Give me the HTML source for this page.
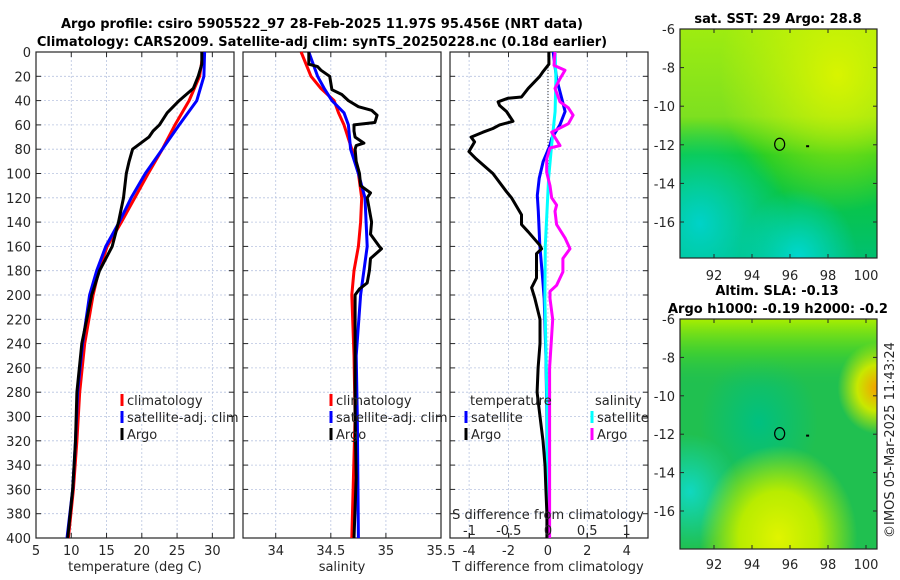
<!DOCTYPE html>
<html><head><meta charset="utf-8"><style>
body{margin:0;background:#fff}
svg{display:block;font-family:"DejaVu Sans","Liberation Sans",sans-serif}
.t{font-size:13px;fill:#262626}
.b{font-size:13px;font-weight:bold;fill:#000}
</style></head><body>
<svg id="c" width="900" height="580" viewBox="0 0 900 580">
<defs>
<radialGradient id="m1a" cx="0.8" cy="0.2" r="0.6"><stop offset="0" stop-color="#d8f400"/><stop offset="1" stop-color="#d8f400" stop-opacity="0"/></radialGradient>
<radialGradient id="m1b" cx="0.1" cy="0.85" r="0.45"><stop offset="0" stop-color="#00d2c8"/><stop offset="1" stop-color="#00d2c8" stop-opacity="0"/></radialGradient>
<radialGradient id="m1c" cx="0.6" cy="1" r="0.3"><stop offset="0" stop-color="#00d8d0"/><stop offset="1" stop-color="#00d8d0" stop-opacity="0"/></radialGradient>
<linearGradient id="m1base" x1="0" y1="0" x2="0" y2="1"><stop offset="0" stop-color="#9eec10"/><stop offset="0.38" stop-color="#7ee020"/><stop offset="0.55" stop-color="#10c828"/><stop offset="1" stop-color="#00c070"/></linearGradient>
<radialGradient id="m2a" cx="1" cy="0.3" r="0.2"><stop offset="0" stop-color="#f4a000"/><stop offset="0.5" stop-color="#c8e800"/><stop offset="1" stop-color="#c8e800" stop-opacity="0"/></radialGradient>
<radialGradient id="m2b" cx="0.05" cy="0.75" r="0.25"><stop offset="0" stop-color="#10d8c0"/><stop offset="1" stop-color="#10d8c0" stop-opacity="0"/></radialGradient>
<radialGradient id="m2c" cx="0.5" cy="0.95" r="0.4"><stop offset="0" stop-color="#e0f400"/><stop offset="0.5" stop-color="#b8ec00"/><stop offset="1" stop-color="#b8ec00" stop-opacity="0"/></radialGradient>
<linearGradient id="m2top" x1="0" y1="0" x2="0" y2="1"><stop offset="0" stop-color="#a8ee00"/><stop offset="0.15" stop-color="#50d820" stop-opacity="0.6"/><stop offset="0.3" stop-color="#20c050" stop-opacity="0"/></linearGradient>
<radialGradient id="m2d" cx="0.4" cy="0.45" r="0.3"><stop offset="0" stop-color="#00c080"/><stop offset="1" stop-color="#00c080" stop-opacity="0"/></radialGradient>
</defs>
<g id="root"></g>
</svg>
<script>
// ---- data ----
const tDepth=[0,10,20,30,40,50,60,65,70,80,90,100,120,140,160,180,200,240,280,320,360,400];
const tArgo=[28.5,28.5,28.0,27.3,25.3,23.6,22.5,21.6,21.0,18.7,18.2,17.8,17.4,16.7,15.8,14.0,12.9,11.5,10.8,10.6,10.2,9.5];
const tClimDepth=[0,20,40,60,80,100,120,140,160,180,200,240,280,320,360,400];
const tClim=[28.7,28.2,26.7,24.7,22.9,20.9,19.0,17.1,15.1,13.9,13.1,11.9,11.2,10.8,10.3,9.6];
const tSat=[28.9,28.8,27.8,25.3,22.9,20.5,18.5,16.8,14.9,13.6,12.6,11.6,10.9,10.6,10.2,9.4];
const sDepth=[0,10,12,15,20,31,35,40,45,48,52,58,60,65,70,75,77,80,90,100,110,116,120,140,150,160,162,170,180,190,195,200,250,300,350,400];
const sArgo=[34.30,34.30,34.38,34.41,34.49,34.51,34.60,34.66,34.75,34.87,34.92,34.90,34.71,34.71,34.72,34.80,34.73,34.72,34.73,34.76,34.77,34.86,34.83,34.87,34.86,34.94,34.96,34.86,34.85,34.83,34.76,34.72,34.72,34.72,34.73,34.71];
const sClimDepth=[0,20,30,40,50,60,80,100,120,140,160,180,200,250,300,400];
const sClim=[34.23,34.32,34.41,34.53,34.57,34.62,34.69,34.75,34.78,34.77,34.75,34.71,34.69,34.71,34.72,34.69];
const sSat=[34.30,34.38,34.44,34.51,34.62,34.66,34.68,34.75,34.81,34.82,34.83,34.80,34.77,34.73,34.74,34.75];
const dDepthArgo=[0,10,16,20,30,37,38,41,44,49,57,60,63,66,70,74,82,88,100,115,120,134,142,148,159,162,166,186,194,203,220,240,260,280,300,320,340,360,380,400];
const dTArgo=[0.05,0.05,-0.24,-0.41,-1.0,-1.34,-2.02,-2.53,-2.45,-2.1,-1.77,-2.45,-2.79,-3.3,-3.9,-3.72,-4.01,-3.64,-2.79,-2.1,-1.85,-1.34,-1.34,-1.0,-0.41,-0.32,-0.58,-0.58,-0.83,-0.66,-0.4,-0.4,-0.5,-0.55,-0.4,-0.25,-0.15,-0.1,-0.05,-0.05];
const dDepthSat=[0,22,38,49,60,71,77,90,104,118,131,159,186,203,250,300,400];
const dTSat=[0.27,0.44,0.70,0.87,0.61,0.19,0.10,-0.24,-0.44,-0.54,-0.49,-0.41,-0.27,-0.19,-0.1,-0.05,0.0];
const dSSatDepth=[0,22,49,76,104,131,159,203,300,400];
const dSSat=[0.09,0.10,0.09,0.047,0.008,-0.013,-0.034,-0.04,-0.01,0.0];
const dSDepthArgo=[0,11,15,22,30,41,46,52,59,66,77,79,88,99,110,120,126,131,142,153,162,170,181,192,197,203,220,260,300,400];
const dSArgo=[0.089,0.076,0.217,0.153,0.089,0.153,0.26,0.32,0.26,0.047,0.153,0.025,-0.017,-0.017,0.025,0.047,0.11,0.089,0.11,0.217,0.28,0.19,0.19,0.11,0.025,0.025,0.06,0.02,0.02,0.02];
const depthTicks=[0,20,40,60,80,100,120,140,160,180,200,220,240,260,280,300,320,340,360,380,400];
const tTicks=[5,10,15,20,25,30];
const sTicks=[34,34.5,35,35.5];
const dTTicks=[-4,-2,0,2,4];
const dSTicks=[-1,-0.5,0,0.5,1];

const NS='http://www.w3.org/2000/svg';
const root=document.getElementById('root');
function el(tag,attrs,parent,txt){const e=document.createElementNS(NS,tag);for(const k in attrs)e.setAttribute(k,attrs[k]);if(txt!==undefined)e.textContent=txt;(parent||root).appendChild(e);return e;}
const Y0=52,Y1=538;
const yScale=d=>Y0+(d/400)*(Y1-Y0);
function xs(x0,x1,v0,v1){return v=>x0+(v-v0)/(v1-v0)*(x1-x0);}
function panel(name,x0,x1,xsc,ticks,fmt,yLabels){
  const g=el('g',{});
  
  
  depthTicks.forEach(d=>{const y=yScale(d);
    if(d>0&&d<400)el('line',{x1:x0,x2:x1,y1:y,y2:y,stroke:'#b8c4e0','stroke-width':0.8,'stroke-dasharray':'2,2'},g);
    el('line',{x1:x0,x2:x0+5,y1:y,y2:y,stroke:'#262626'},g);el('line',{x1:x1-5,x2:x1,y1:y,y2:y,stroke:'#262626'},g);
    if(yLabels){const t=el('text',{x:x0-5,y:y+5,'text-anchor':'end',class:'t'},g,String(d));}
  });
  ticks.forEach(v=>{const x=xsc(v);
    if(x>x0+1&&x<x1-1)el('line',{x1:x,x2:x,y1:Y0,y2:Y1,stroke:'#b8c4e0','stroke-width':0.8,'stroke-dasharray':'2,2'},g);
    el('line',{x1:x,x2:x,y1:Y1,y2:Y1-5,stroke:'#262626'},g);el('line',{x1:x,x2:x,y1:Y0,y2:Y0+5,stroke:'#262626'},g);
    const t=el('text',{x:x,y:Y1+17,'text-anchor':'middle',class:'t'},g,fmt(v));
  });
  el('rect',{x:x0,y:Y0,width:x1-x0,height:Y1-Y0,fill:'none',stroke:'#262626','stroke-width':1.2},g);
  return g;
}
function line(g,name,xsArr,ds,xsc,color){
  const p=xsArr.map((v,i)=>xsc(v).toFixed(1)+','+yScale(ds[i]).toFixed(1)).join(' ');
  const e=el('polyline',{points:p,fill:'none',stroke:color,'stroke-width':3,'stroke-linejoin':'round'},g);
  
  
}
function legend(g,x,y,color,label){
  el('rect',{x:x-1.5,y:y-11,width:3,height:12,fill:color},g);
  const t=el('text',{x:x+5,y:y,class:'t'},g,label);
  
  
}
// Panel 1
const xT=xs(36,234,5,33.07);
const g1=panel('temperature-panel',36,234,xT,tTicks,v=>String(v),true);
line(g1,'temperature-climatology-line',tClim,tClimDepth,xT,'#f00');
line(g1,'temperature-satellite-line',tSat,tClimDepth,xT,'#00f');
line(g1,'temperature-argo-line',tArgo,tDepth,xT,'#000');
legend(g1,122,405,'#f00','climatology');legend(g1,122,422,'#00f','satellite-adj. clim');legend(g1,122,439,'#000','Argo');
el('text',{x:135,y:571,'text-anchor':'middle',class:'t'},g1,'temperature (deg C)');
// Panel 2
const xS=xs(243,441,33.703,35.5);
const g2=panel('salinity-panel',243,441,xS,sTicks,v=>String(v),false);
line(g2,'salinity-climatology-line',sClim,sClimDepth,xS,'#f00');
line(g2,'salinity-satellite-line',sSat,sClimDepth,xS,'#00f');
line(g2,'salinity-argo-line',sArgo,sDepth,xS,'#000');
legend(g2,331,405,'#f00','climatology');legend(g2,331,422,'#00f','satellite-adj. clim');legend(g2,331,439,'#000','Argo');
el('text',{x:342,y:571,'text-anchor':'middle',class:'t'},g2,'salinity');
// Panel 3
const xD=xs(450,648,-4.97,5.08);
const xDS=v=>548+v*78.5;
const g3=panel('difference-panel',450,648,xD,dTTicks,v=>String(v),false);
el('line',{x1:548,x2:548,y1:Y0,y2:yScale(100),stroke:'#333','stroke-width':1,'stroke-dasharray':'1,2'},g3);
line(g3,'t-diff-satellite-line',dTSat,dDepthSat,xD,'#00f');
line(g3,'s-diff-satellite-line',dSSat,dSSatDepth,xDS,'#0ff');
line(g3,'s-diff-argo-line',dSArgo,dSDepthArgo,xDS,'#f0f');
line(g3,'t-diff-argo-line',dTArgo,dDepthArgo,xD,'#000');
el('text',{x:470,y:405,class:'t'},g3,'temperature');el('text',{x:595,y:405,class:'t'},g3,'salinity');
legend(g3,466,422,'#00f','satellite');legend(g3,466,439,'#000','Argo');
legend(g3,592,422,'#0ff','satellite');legend(g3,592,439,'#f0f','Argo');
el('text',{x:548,y:519,'text-anchor':'middle',class:'t'},g3,'S difference from climatology');
dSTicks.forEach(v=>{const t=el('text',{x:xDS(v),y:535,'text-anchor':'middle',class:'t'},g3,String(v));el('line',{x1:xDS(v),x2:xDS(v),y1:Y1,y2:Y1-5,stroke:'#262626'},g3);});
el('text',{x:548,y:571,'text-anchor':'middle',class:'t'},g3,'T difference from climatology');
// Titles
const t1=el('text',{x:322,y:28,'text-anchor':'middle',class:'b'},root,'Argo profile: csiro 5905522_97 28-Feb-2025 11.97S 95.456E (NRT data)');

const t2=el('text',{x:322,y:46,'text-anchor':'middle',class:'b'},root,'Climatology: CARS2009. Satellite-adj clim: synTS_20250228.nc (0.18d earlier)');

// Maps
function map(name,x0,y0,x1,y1,latTop,pxPerLat,layers,titleLines,xlabY){
  const g=el('g',{});
  
  
  layers.forEach(f=>el('rect',{x:x0,y:y0,width:x1-x0,height:y1-y0,fill:f},g));
  const lonX=v=>714+(v-92)*19;
  [92,94,96,98,100].forEach(v=>{const x=lonX(v);el('line',{x1:x,x2:x,y1:y1,y2:y1-4,stroke:'#262626'},g);el('line',{x1:x,x2:x,y1:y0,y2:y0+4,stroke:'#262626'},g);el('text',{x:x,y:xlabY,'text-anchor':'middle',class:'t'},g,String(v));});
  [-6,-8,-10,-12,-14,-16].forEach(v=>{const y=y0+(latTop-v)*pxPerLat;el('line',{x1:x0,x2:x0+4,y1:y,y2:y,stroke:'#262626'},g);el('line',{x1:x1-4,x2:x1,y1:y,y2:y,stroke:'#262626'},g);el('text',{x:x0-5,y:y+5,'text-anchor':'end',class:'t'},g,String(v));});
  const cy=y0+(latTop+11.97)*pxPerLat;
  el('ellipse',{cx:lonX(95.456),cy:cy,rx:5,ry:6,fill:'none',stroke:'#000','stroke-width':1.2},g);
  el('rect',{x:lonX(96.9)-1,y:cy+1,width:3,height:2,fill:'#000'},g);
  el('rect',{x:x0,y:y0,width:x1-x0,height:y1-y0,fill:'none',stroke:'#262626','stroke-width':1.2},g);
  titleLines.forEach(l=>el('text',{x:l[0],y:l[1],'text-anchor':'middle',class:'b'},g,l[2]));
}
map('sst-map',680,29,877,258,-6,19.3,['url(#m1base)','url(#m1a)','url(#m1b)','url(#m1c)'],[[778,23,'sat. SST: 29 Argo: 28.8']],280);
map('sla-map',680,319,877,549,-6,19.2,['#20c050','url(#m2d)','url(#m2top)','url(#m2a)','url(#m2b)','url(#m2c)'],[[777,295,'Altim. SLA: -0.13'],[778,313,'Argo h1000: -0.19 h2000: -0.2']],569);
const c=el('text',{x:0,y:0,class:'t',transform:'translate(894,440) rotate(-90)','text-anchor':'middle'},root,'©IMOS 05-Mar-2025 11:43:24');

</script>
</body></html>
